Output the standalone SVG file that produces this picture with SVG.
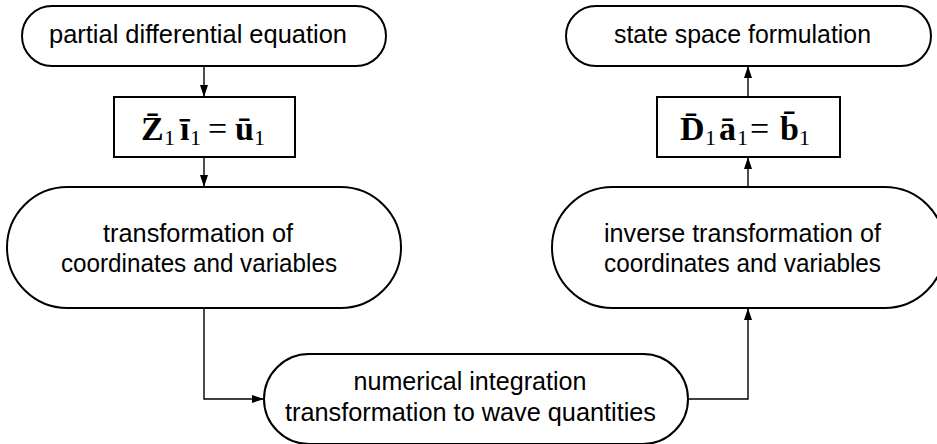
<svg xmlns="http://www.w3.org/2000/svg" width="937" height="444" viewBox="0 0 937 444">
<style>
.node{fill:#fff;stroke:#000;stroke-width:2}
.lbl{font-family:"Liberation Sans",Arial,sans-serif;font-size:26px;fill:#000;text-anchor:middle}
.m{font-family:"Liberation Serif","Times New Roman",serif;font-size:34px;fill:#000}
.b{font-weight:bold}
.s{font-family:"Liberation Serif","Times New Roman",serif;font-size:22px;fill:#000}
.conn{fill:none;stroke:#000;stroke-width:1.4}
</style>
<defs>
<marker id="arr" markerUnits="userSpaceOnUse" markerWidth="14" markerHeight="10" refX="12" refY="5" orient="auto">
<path d="M0,1 L12,5 L0,9 Z" fill="#000"/>
</marker>
</defs>
<rect width="937" height="444" fill="#fff"/>
<g id="connectors">
<path class="conn" d="M204,66 V97" marker-end="url(#arr)"/>
<path class="conn" d="M204,157 V187" marker-end="url(#arr)"/>
<path class="conn" d="M204,308 V399 H264" marker-end="url(#arr)"/>
<path class="conn" d="M688,399 H748 V308" marker-end="url(#arr)"/>
<path class="conn" d="M748,187 V157" marker-end="url(#arr)"/>
<path class="conn" d="M748,97 V66" marker-end="url(#arr)"/>
</g>
<g id="pde">
<rect class="node" x="22" y="6" width="364" height="60" rx="30" ry="30"/>
<text class="lbl" x="198" y="43" textLength="298" lengthAdjust="spacingAndGlyphs">partial differential equation</text>
</g>
<g id="eqZ">
<rect class="node" x="114" y="97" width="181" height="60"/>
<text class="m b" x="141" y="140">Z&#x304;</text>
<text class="s" x="164" y="145">1</text>
<text class="m b" x="180" y="140">i&#x304;</text>
<text class="s" x="190" y="145">1</text>
<text class="m" x="208" y="140">=</text>
<text class="m b" x="235" y="140">u&#x304;</text>
<text class="s" x="254" y="145">1</text>
</g>
<g id="transform">
<rect class="node" x="7" y="187" width="394" height="121" rx="60.5" ry="60.5"/>
<text class="lbl" x="198" y="242" textLength="190" lengthAdjust="spacingAndGlyphs">transformation of</text>
<text class="lbl" x="199" y="272" textLength="276" lengthAdjust="spacingAndGlyphs">coordinates and variables</text>
</g>
<g id="numint">
<rect class="node" x="264" y="354" width="424" height="90" rx="45" ry="45"/>
<text class="lbl" x="470" y="390" textLength="233" lengthAdjust="spacingAndGlyphs">numerical integration</text>
<text class="lbl" x="470.5" y="421" textLength="371" lengthAdjust="spacingAndGlyphs">transformation to wave quantities</text>
</g>
<g id="invtransform">
<rect class="node" x="552" y="187" width="393" height="121" rx="60.5" ry="60.5"/>
<text class="lbl" x="742.5" y="242" textLength="277" lengthAdjust="spacingAndGlyphs">inverse transformation of</text>
<text class="lbl" x="742.5" y="272" textLength="277" lengthAdjust="spacingAndGlyphs">coordinates and variables</text>
</g>
<g id="eqD">
<rect class="node" x="657" y="97" width="183" height="60"/>
<text class="m b" x="680" y="140">D&#x304;</text>
<text class="s" x="705" y="145">1</text>
<text class="m b" x="719" y="140">a&#x304;</text>
<text class="s" x="737" y="145">1</text>
<text class="m" x="750" y="140">=</text>
<text class="m b" x="780" y="140">b&#x304;</text>
<text class="s" x="799" y="145">1</text>
</g>
<g id="statespace">
<rect class="node" x="566" y="6" width="365" height="60" rx="30" ry="30"/>
<text class="lbl" x="742.5" y="43" textLength="257" lengthAdjust="spacingAndGlyphs">state space formulation</text>
</g>
</svg>
